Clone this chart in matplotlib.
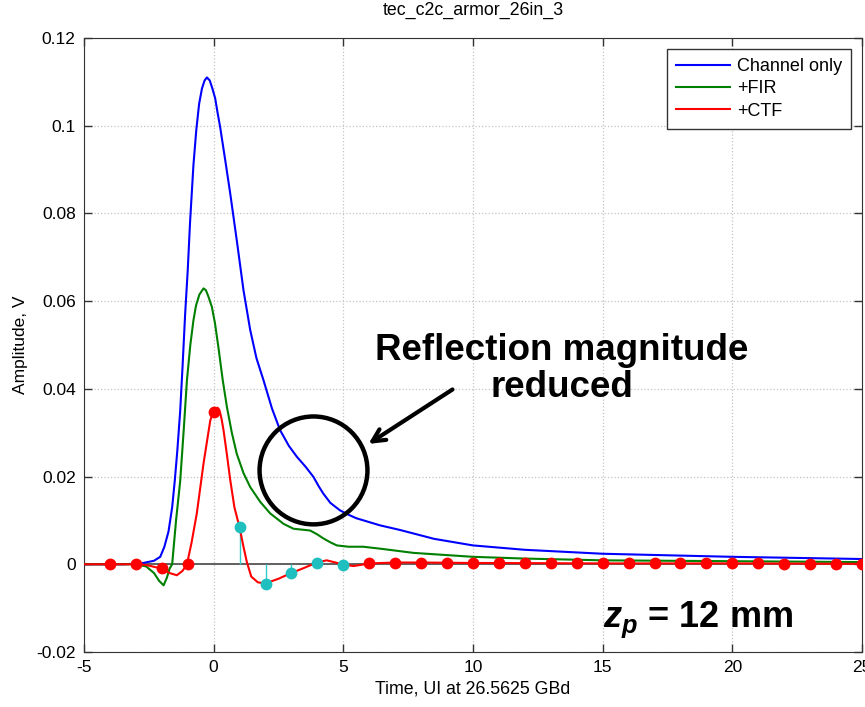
import matplotlib
matplotlib.use("Agg")
import matplotlib.pyplot as plt
from matplotlib.patches import Ellipse
from matplotlib.ticker import FuncFormatter

# traces (x in UI, y in V)
blue_x = [-5, -3.5, -2.8, -2.3, -2.06, -1.9, -1.74, -1.6, -1.5, -1.4, -1.29, -1.2, -1.1, -1.0,
          -0.91, -0.78, -0.67, -0.56, -0.45, -0.35, -0.26, -0.15, -0.05, 0.06, 0.15, 0.25,
          0.45, 0.64, 0.9, 1.15, 1.41, 1.65, 1.92, 2.25, 2.56, 2.9, 3.21, 3.55, 3.85, 4.05,
          4.23, 4.5, 4.87, 5.2, 5.5, 6.4, 7.2, 8.5, 10, 12, 15, 20, 25]
blue_y = [0, 0, 0.0002, 0.0008, 0.0017, 0.004, 0.0075, 0.013, 0.019, 0.026, 0.035, 0.045, 0.057, 0.067,
          0.078, 0.091, 0.099, 0.105, 0.1085, 0.1103, 0.111, 0.1103, 0.1085, 0.1062, 0.103, 0.0997,
          0.092, 0.0845, 0.0735, 0.0625, 0.0534, 0.047, 0.042, 0.0355, 0.0306, 0.027, 0.0245, 0.0222, 0.0199, 0.0178,
          0.0161, 0.014, 0.0123, 0.0113, 0.0105, 0.0089, 0.0078, 0.0058, 0.0043, 0.0033, 0.0024, 0.0017, 0.0012]

green_x = [-5, -3, -2.6, -2.3, -2.1, -1.93, -1.8, -1.7, -1.6, -1.45, -1.29, -1.15, -1.03, -0.9,
           -0.78, -0.68, -0.55, -0.39, -0.3, -0.2, -0.07, 0.05, 0.18, 0.35, 0.51, 0.7, 0.89,
           1.15, 1.41, 1.8, 2.18, 2.7, 3.08, 3.4, 3.72, 4.0, 4.23, 4.5, 4.75, 5.2, 5.77, 6.5,
           7.7, 10, 12, 15, 20, 25]
green_y = [0, 0, -0.0005, -0.002, -0.0038, -0.0048, -0.003, -0.001, 0.0, 0.01, 0.019, 0.031, 0.042, 0.050,
           0.0556, 0.059, 0.0615, 0.0629, 0.0625, 0.061, 0.0587, 0.055, 0.0496, 0.042, 0.0359, 0.030, 0.0252,
           0.0208, 0.0176, 0.0142, 0.0116, 0.0092, 0.0081, 0.0079, 0.0077, 0.0068, 0.0059, 0.005, 0.0043, 0.0040, 0.0040, 0.0035,
           0.0026, 0.0017, 0.0013, 0.0009, 0.0007, 0.0005]

red_x = [-5, -2.8, -2.5, -2.0, -1.7, -1.42, -1.2, -1.03, -0.85, -0.65, -0.39, -0.13, -0.03, 0.05,
         0.15, 0.22, 0.3, 0.38, 0.5, 0.64, 0.8, 1.0, 1.15, 1.28, 1.45, 1.7, 1.98, 2.5, 2.95,
         3.5, 3.98, 4.36, 4.7, 5.0, 5.4, 6.03, 7, 8, 10, 15, 20, 25]
red_y = [0, 0, -0.0003, -0.001, -0.002, -0.0025, -0.0015, 0, 0.005, 0.0116, 0.023, 0.0328, 0.0345, 0.0353,
         0.0357, 0.0352, 0.0333, 0.0306, 0.0255, 0.0192, 0.013, 0.0084, 0.0040, 0.0005, -0.0028, -0.0041, -0.0044, -0.0033, -0.0021,
         -0.0008, 0.0004, 0.0009, 0.0004, -0.0001, -0.0004, 0.0002, 0.0004, 0.0004, 0.0003, 0.0002, 0.0002, 0.0001]

# sampled cursor points
red_pts_x = [-4, -3, -2, -1, 0] + list(range(6, 26))
red_pts_y = [0, 0, -0.0008, 0.0001, 0.0347,
             0.0002, 0.0004, 0.0004, 0.0003, 0.0003, 0.0003, 0.0003, 0.0002, 0.0002, 0.0002,
             0.0002, 0.0002, 0.0002, 0.0002, 0.0002, 0.0002, 0.0001, 0.0001, 0.0001, 0.0001]
cyan_x = [1, 2, 3, 4, 5]
cyan_y = [0.0084, -0.0044, -0.0019, 0.0004, -0.0001]

labels = ["Channel only", "+FIR", "+CTF"]

plt.rcParams['font.family'] = ['Liberation Sans', 'DejaVu Sans']
plt.rcParams['axes.unicode_minus'] = False
plt.rcParams['mathtext.fontset'] = 'custom'
plt.rcParams['mathtext.it'] = 'Liberation Sans:bold:italic'
plt.rcParams['mathtext.rm'] = 'Liberation Sans:bold'

fig = plt.figure(figsize=(8.65, 7.07), dpi=100)
ax = fig.add_axes([0.0971, 0.0778, 0.8994, 0.8685])

ax.axhline(0, color="#555555", lw=1.3, zorder=1)
ax.plot(blue_x, blue_y, color="#0000ff", lw=1.5, label=labels[0], zorder=3)
ax.plot(green_x, green_y, color="#008000", lw=1.5, label=labels[1], zorder=3)
ax.plot(red_x, red_y, color="#ff0000", lw=1.5, label=labels[2], zorder=4)

ax.vlines(cyan_x, 0, cyan_y, color="#33cccc", lw=1.0, zorder=2)
ax.plot(cyan_x, cyan_y, "o", color="#1fbfbf", ms=8.5, mec="none", zorder=5)
ax.plot(red_pts_x, red_pts_y, "o", color="#ff0000", ms=8.5, mec="none", zorder=5)

ax.set_xlim(-5, 25)
ax.set_ylim(-0.02, 0.12)
ax.set_xticks(range(-5, 26, 5))
ax.set_yticks([-0.02, 0, 0.02, 0.04, 0.06, 0.08, 0.1, 0.12])
ax.yaxis.set_major_formatter(FuncFormatter(lambda v, p: "0" if abs(v) < 1e-9 else f"{v:g}"))
ax.tick_params(direction="in", length=6, width=1, top=True, right=True, labelsize=12.5, pad=6,
               color="#333333")
for s in ax.spines.values():
    s.set_color("#333333")
ax.grid(True, ls=":", color="#c4c4c4", lw=0.9)
ax.set_axisbelow(True)

ax.set_title("tec_c2c_armor_26in_3", fontsize=12.8, pad=17)
ax.set_xlabel("Time, UI at 26.5625 GBd", fontsize=12.8, labelpad=4)
ax.set_ylabel("Amplitude, V", fontsize=12.5, labelpad=6)

leg = ax.legend(loc="upper right", fontsize=13, handlelength=3.0, borderaxespad=0.6,
                fancybox=False, framealpha=1, edgecolor="#333333", borderpad=0.5,
                labelspacing=0.3, handletextpad=0.4)
leg.get_frame().set_linewidth(1.0)

# annotations
ax.add_patch(Ellipse((3.85, 0.0214), 4.16, 0.0246, fill=False, ec="black", lw=3.2, zorder=6))
ax.annotate("", xy=(5.88, 0.0271), xytext=(9.3, 0.0402),
            arrowprops=dict(arrowstyle="->,head_length=0.9,head_width=0.45", lw=3, color="black"))
ax.text(13.43, 0.0445, "Reflection magnitude\nreduced", ha="center", va="center",
        fontsize=26.5, fontweight="bold", linespacing=1.1)
ax.text(15.0, -0.0143, r"$z_p$ = 12 mm", ha="left", va="baseline",
        fontsize=26, fontweight="bold")

fig.savefig("out.png", dpi=100)
